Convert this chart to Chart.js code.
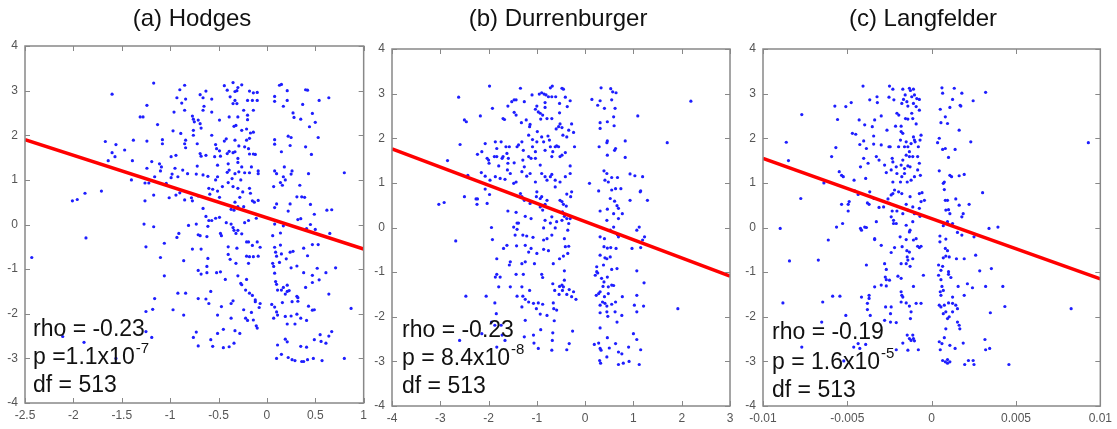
<!DOCTYPE html>
<html>
<head>
<meta charset="utf-8">
<script src="https://cdn.jsdelivr.net/npm/chart.js@4.4.1/dist/chart.umd.min.js"></script>
<style>
  html, body { margin: 0; padding: 0; background: #fff; }
  #wrap { position: relative; width: 1117px; height: 429px; overflow: hidden; }
  canvas { position: absolute; top: 0; }
</style>
</head>
<body>
<div id="wrap">
  <canvas id="panelA" width="372" height="429" style="left:0px"></canvas>
  <canvas id="panelB" width="372" height="429" style="left:372px"></canvas>
  <canvas id="panelC" width="373" height="429" style="left:744px"></canvas>
</div>
<script>
// ---- panel titles and statistics ----
const titles = ['(a) Hodges', '(b) Durrenburger', '(c) Langfelder'];
const rhoValues = ['-0.23', '-0.23', '-0.19'];
const pPrefix = ['p =', 'p = ', 'p = '];
const pMantissa = ['1.1', '8.4', '1.6'];
const pExponent = ['-7', '-8', '-5'];
const dfValues = ['513', '513', '513'];

// ---- tick values ----
const yTicks = [-4, -3, -2, -1, 0, 1, 2, 3, 4];
const hodgesTicks = [-2.5, -2, -1.5, -1, -0.5, 0, 0.5, 1];
const durrTicks = [-4, -3, -2, -1, 0, 1, 2, 3];
const langTicks = [-0.01, -0.005, 0, 0.005, 0.01];

// ---- fitted regression lines (endpoints at the axis limits) ----
const hodgesFit = [[-2.5, 1.9], [1, -0.55]];
const durrFit = [[-4, 1.76], [3, -1.09]];
const langFit = [[-0.01, 1.55], [0.01, -1.15]];

// ---- (a) Hodges: [x, y] ----
const hodgesPoints = [
[-1.17,3.17],[-1.60,2.92],[-1.24,2.67],[-1.31,2.41],[-1.28,2.41],[-1.13,2.24],
[-0.85,3.12],[-0.90,3.02],[-0.93,2.84],[-0.84,2.81],[-0.88,2.72],[-0.96,2.52],[-0.85,2.56],[-0.77,2.43],[-0.76,2.36],[-0.71,2.34],
[-0.69,2.91],[-0.63,2.99],[-0.66,2.84],[-0.57,2.81],[-0.66,2.56],[-0.65,2.65],[-0.57,2.52],[-0.69,2.26],[-0.68,2.16],[-0.75,2.30],
[-0.44,3.11],[-0.41,3.01],[-0.35,3.18],[-0.30,3.07],[-0.26,3.13],[-0.33,2.98],[-0.38,2.86],[-0.33,2.78],[-0.31,2.71],[-0.35,2.71],[-0.31,3.0],
[-0.18,2.99],[-0.14,2.95],[-0.10,2.96],[-0.20,2.78],[-0.15,2.78],[-0.10,2.78],[-0.24,2.56],[-0.20,2.45],[-0.14,2.56],
[-0.49,2.34],[-0.39,2.41],[-0.30,2.41],[-0.32,2.22],[-0.34,2.20],[-0.20,2.35],[-0.21,2.14],[-0.26,2.11],[-0.17,2.05],[-0.14,2.07],
[0.08,2.87],[0.13,3.12],[0.15,3.14],[0.21,3.0],[0.08,2.76],[0.17,2.65],[0.21,2.78],[0.40,3.02],[0.42,3.01],[0.37,2.69],[0.54,2.78],[0.64,2.84],
[0.27,2.50],[0.28,2.40],[0.35,2.36],[0.47,2.49],[0.50,2.29],[0.44,2.19],
[0.08,1.90],[0.08,1.80],[0.22,1.98],[0.25,1.95],[0.24,1.77],[0.15,1.63],[0.40,1.74],[0.46,1.57],[0.53,1.95],
[-1.67,1.86],[-1.56,1.79],[-1.60,1.61],[-1.57,1.52],[-1.47,1.67],[-1.38,1.89],[-1.64,1.43],[-1.39,1.43],[-1.40,1.0],[-1.24,1.87],[-1.24,1.26],
[-1.19,1.41],[-1.11,1.36],[-1.09,1.29],[-1.08,1.90],[-1.08,1.81],[-0.99,1.52],[-0.94,1.55],[-0.85,1.81],[-0.84,1.89],[-0.84,1.72],[-0.89,2.04],
[-0.97,2.10],[-0.76,2.11],[-0.76,2.0],[-0.72,1.81],[-0.69,1.59],[-0.68,1.53],[-0.63,1.55],[-0.57,2.0],[-0.53,1.79],[-0.52,1.70],[-0.49,1.65],
[-0.54,1.52],[-0.48,1.53],[-0.51,1.33],[-0.51,1.07],[-0.44,1.87],[-0.41,1.59],[-0.39,1.64],[-0.35,1.61],[-0.33,1.63],[-0.29,1.76],[-0.33,1.89],
[-0.42,1.92],[-0.21,1.89],[-0.18,1.93],[-0.23,1.74],[-0.19,1.70],[-0.18,1.58],[-0.14,1.58],[-0.12,1.57],[-0.30,1.48],[-0.40,1.36],[-0.39,1.22],
[-0.41,1.17],[-0.33,1.14],[-0.29,1.18],[-0.23,1.16],[-0.18,1.16],[-0.09,1.20],[-0.09,1.14],[-0.16,1.29],[-0.26,1.29],[-0.30,1.39],[-0.27,1.0],
[-0.36,1.03],[-0.66,1.11],[-0.61,1.08],[-0.53,1.0],[-0.73,1.13],[-0.72,1.31],[-0.82,1.14],[-0.87,1.22],[-0.92,1.07],[-0.99,1.05],[-1.04,0.92],
[-0.95,1.26],[-0.98,1.13],[-1.16,1.07],[-1.10,1.20],
[0.08,1.20],[0.10,1.14],[0.17,1.07],[0.18,1.29],[0.26,1.20],[0.25,1.13],[0.19,1.0],[0.14,0.94],[0.16,0.88],[0.34,0.88],[0.43,1.14],[0.80,1.16],[0.07,0.85],
[-2.01,0.53],[-1.96,0.56],[-1.88,0.70],[-1.71,0.75],[-1.26,0.93],[-1.22,0.93],[-1.17,0.66],[-1.26,0.53],[-1.01,0.60],[-0.94,0.66],[-0.90,0.71],
[-0.85,0.55],[-0.77,0.53],[-0.78,0.60],[-0.71,0.64],[-0.66,0.36],[-0.59,0.68],[-0.60,0.81],[-0.56,0.79],[-0.51,0.75],[-0.49,0.61],[-0.46,0.85],
[-0.40,0.94],[-0.35,0.85],[-0.30,0.81],[-0.28,0.61],[-0.33,0.50],[-0.37,0.34],[-0.34,0.32],[-0.30,0.40],[-0.24,0.40],[-0.25,0.73],[-0.18,0.81],
[-0.15,0.53],[-0.13,0.50],[-0.09,0.54],[-0.17,0.70],[-0.63,0.18],[-0.57,0.09],[-0.60,0.09],[-0.49,0.16],[-0.53,0.14],[-0.61,-0.04],[-0.73,0.01],
[-0.81,-0.02],[-0.42,0.04],[-0.37,0.01],[-0.35,-0.07],[-0.30,-0.13],[-0.34,-0.13],[-0.32,-0.20],[-0.23,0.04],[-0.19,0.09],[-0.11,0.14],
[-1.27,0.01],[-1.17,-0.05],
[0.10,0.46],[0.08,0.38],[0.22,0.30],[0.24,0.46],[0.31,0.62],[0.36,0.62],[0.39,0.61],[0.45,0.45],[0.49,0.23],[0.35,0.13],[0.32,0.11],[0.62,0.32],
[0.67,0.33],[0.08,0.01],[0.17,-0.03],[0.45,0.0],[0.41,-0.09],[0.50,-0.11],[0.65,-0.20],
[-2.43,-0.74],[-1.87,-0.30],[-1.25,-0.50],[-1.06,-0.42],[-0.91,-0.20],[-0.93,-0.29],[-1.10,-0.74],[-0.86,-0.81],[-0.77,-0.55],[-0.71,-0.23],
[-0.69,-0.25],[-0.62,-0.27],[-0.68,-0.55],[-0.61,-0.76],[-0.48,-0.20],[-0.47,-0.25],[-0.40,-0.50],[-0.40,-0.67],[-0.38,-0.78],[-0.31,-0.53],
[-0.26,-0.21],[-0.21,-0.39],[-0.19,-0.39],[-0.10,-0.39],[-0.15,-0.47],[-0.21,-0.71],[-0.18,-0.72],[-0.14,-0.72],[-0.09,-0.71],[-0.07,-0.51],
[-0.19,-0.87],[-0.32,-0.87],
[0.06,-0.25],[0.14,-0.19],[0.08,-0.51],[0.14,-0.46],[0.09,-0.62],[0.10,-0.71],[0.15,-0.66],[0.24,-0.62],[0.27,-0.60],[0.20,-0.77],[0.38,-0.53],
[0.47,-0.45],[0.53,-0.45],[0.42,-0.70],[0.13,-0.85],[0.06,-0.87],
[-1.06,-1.15],[-0.71,-1.03],[-0.68,-1.11],[-0.62,-1.08],[-0.62,-0.94],[-0.52,-1.08],[-0.48,-1.06],[-0.43,-1.23],[-0.30,-1.15],[-0.27,-1.32],
[-0.26,-1.35],[-0.21,-1.23],[-0.22,-1.47],[-0.18,-1.54],[-0.15,-1.59],[-0.12,-1.69],[-0.12,-1.73],[-0.07,-1.77],[-0.08,-1.86],[-0.24,-1.91],
[-0.16,-1.97],[-0.37,-1.77],[-0.35,-1.71],
[0.07,-0.94],[0.08,-1.09],[0.09,-1.28],[0.10,-1.34],[0.17,-1.41],[0.11,-1.47],[0.15,-1.47],[0.21,-1.36],[0.21,-1.50],[0.23,-1.48],[0.19,-1.56],
[0.25,-0.97],[0.31,-0.93],[0.38,-1.08],[0.47,-1.14],[0.52,-0.98],[0.61,-1.08],[0.54,-1.24],[0.47,-1.30],[0.40,-1.41],[0.71,-0.97],[0.64,-1.56],
[0.31,-1.61],[0.32,-1.64],[0.32,-1.72],[0.26,-1.73],[0.16,-1.75],[0.05,-1.79],[0.08,-1.85],[0.10,-1.96],[0.11,-2.03],[0.19,-2.06],[0.25,-2.05],
[0.31,-2.01],[0.43,-1.83],[0.47,-1.92],[0.49,-1.91],[0.87,-1.88],
[-1.16,-1.66],[-1.18,-1.90],[-1.25,-1.95],[-0.97,-1.91],[-0.92,-1.54],[-0.84,-1.54],[-0.86,-2.03],[-0.71,-1.66],[-0.63,-1.67],[-0.60,-1.77],
[-0.58,-1.50],[-0.47,-1.84],[-0.51,-2.03],
[-2.11,-2.51],[-1.89,-2.64],[-1.56,-3.0],[-1.25,-2.40],[-1.19,-2.53],[-0.76,-2.53],[-0.73,-2.41],[-0.71,-2.72],[-0.58,-2.58],[-0.56,-2.73],
[-0.51,-2.44],[-0.45,-2.35],[-0.45,-2.76],[-0.39,-2.74],[-0.34,-2.66],[-0.37,-2.10],[-0.33,-2.38],[-0.28,-2.44],[-0.22,-2.10],[-0.20,-2.15],
[-0.14,-2.14],[-0.10,-2.32],[-0.11,-2.27],
[0.07,-2.10],[0.11,-2.70],[0.10,-3.0],[0.15,-2.91],[0.19,-2.57],[0.21,-2.63],[0.22,-2.98],[0.26,-3.03],[0.29,-3.05],[0.21,-2.23],[0.29,-2.23],
[0.36,-3.07],[0.38,-3.07],[0.42,-3.03],[0.35,-2.73],[0.41,-2.75],[0.41,-2.15],[0.35,-2.10],[0.49,-2.58],[0.48,-3.0],[0.57,-3.05],[0.55,-2.47],
[0.56,-2.62],[0.61,-2.66],[0.64,-2.50],[0.67,-2.40],[0.80,-3.0]
];

// ---- (b) Durrenburger: [x, y] ----
const durrPoints = [
[-1.98,3.17],[-2.62,2.92],[-1.92,2.67],[-2.17,2.50],[-2.50,2.41],[-2.46,2.37],[-2.59,1.86],[-2.85,1.50],
[-1.34,3.12],[-1.47,2.86],[-1.52,2.82],[-1.43,2.86],[-1.60,2.72],[-1.26,2.82],[-1.10,2.97],[-1.03,2.65],[-0.95,2.99],[-0.90,3.02],[-0.85,2.99],
[-0.81,2.97],[-0.76,2.93],[-0.69,2.93],[-0.72,3.13],[-0.68,3.17],[-0.48,3.12],[-0.45,3.10],[-0.61,2.93],[-0.41,2.92],[-0.31,2.84],[-0.37,2.71],
[-0.53,2.78],[-0.83,2.80],[-0.83,2.69],[-0.93,2.56],[-0.88,2.52],[-0.92,2.43],[-0.97,2.59],[-0.79,2.44],[-0.69,2.44],[-1.0,2.72],[-1.47,2.58],
[-1.43,2.52],[-1.70,2.44],[-1.67,2.42],[-1.32,2.35],[-1.22,2.41],[-1.14,2.31],[-1.15,2.26],[-0.53,2.57],[-0.52,2.32],[-0.55,2.26],[-0.48,2.24],
[-0.28,2.32],[-0.24,2.13],[-0.34,2.18],[-0.60,2.21],
[0.14,2.87],[0.31,2.84],[0.26,2.74],[0.33,3.13],[0.53,3.11],[0.57,3.04],[0.64,3.02],[0.55,2.86],[0.40,2.67],[0.62,2.67],[0.59,2.48],[0.31,2.35],
[0.46,2.37],[0.60,2.28],[0.31,2.22],[1.09,2.50],[2.19,2.83],[1.70,1.90],
[-2.07,1.88],[-2.14,1.70],[-2.23,1.64],[-2.03,1.55],[-2.0,1.51],[-1.99,1.44],[-2.15,1.23],[-2.07,1.15],[-2.43,1.17],[-1.86,1.92],[-1.83,1.77],
[-1.74,1.92],[-1.88,1.59],[-1.83,1.59],[-1.72,1.55],[-1.70,1.59],[-1.64,1.81],[-1.57,1.81],[-1.62,1.66],[-1.60,1.44],[-1.61,1.29],[-1.55,1.21],
[-1.79,1.38],[-1.86,1.14],[-1.76,1.10],[-1.66,1.08],[-1.97,1.06],[-1.59,1.55],[-1.47,1.45],[-1.41,1.81],[-1.38,1.85],[-1.31,1.92],[-1.28,1.73],
[-1.29,1.51],[-1.26,1.36],[-1.31,1.25],[-1.17,1.59],[-1.12,1.55],[-1.09,1.81],[-1.09,1.97],[-1.0,1.92],[-1.03,1.70],[-1.03,1.55],[-1.17,2.07],
[-0.99,2.15],[-0.90,2.03],[-0.86,1.92],[-0.77,2.05],[-0.74,1.96],[-0.83,1.73],[-0.72,1.81],[-0.69,1.59],[-0.62,1.81],[-0.59,1.83],[-0.67,1.70],
[-0.52,1.59],[-0.48,1.62],[-0.41,1.68],[-0.55,1.81],[-0.46,2.07],[-0.38,2.03],[-0.22,1.81],[-0.31,1.38],[-0.31,1.21],[-0.93,1.40],[-0.90,1.21],
[-0.83,1.14],[-0.79,1.06],[-0.72,1.14],[-0.69,1.19],[-0.62,1.06],[-0.62,0.91],[-0.52,1.02],[-0.41,1.14],[-1.14,1.21],[-1.21,1.15],[-1.03,1.02],
[-1.43,1.02],[-1.48,0.99],
[0.29,1.81],[0.46,1.94],[0.45,1.90],[0.46,1.62],[0.61,1.73],[0.63,1.77],[0.83,1.94],[0.83,1.57],[0.39,1.27],[0.45,1.21],[0.55,1.12],[0.67,1.12],
[0.41,1.06],[0.48,1.02],[0.93,1.20],[1.03,1.16],[1.19,1.14],[0.09,0.99],[0.55,0.84],[0.63,0.87],[0.74,0.87],[0.28,0.82],[1.14,0.80],[1.15,0.82],
[-3.03,0.52],[-2.92,0.56],[-2.50,0.69],[-2.26,0.64],[-2.23,0.64],[-2.24,0.52],[-2.03,0.54],[-2.07,0.86],[-1.98,0.74],[-1.60,0.37],[-1.43,0.34],
[-1.34,0.76],[-1.31,0.69],[-1.41,0.10],[-1.38,0.10],[-1.48,0.01],[-1.41,-0.04],[-1.26,0.61],[-1.24,0.25],[-1.12,0.20],[-1.14,0.54],[-1.0,0.80],
[-1.01,0.69],[-0.93,0.65],[-0.90,0.69],[-0.93,0.46],[-0.88,0.39],[-0.79,0.61],[-0.83,0.52],[-0.69,0.24],[-0.72,0.10],[-0.83,0.16],[-0.86,-0.01],
[-0.62,-0.01],[-0.52,0.61],[-0.48,0.58],[-0.45,0.52],[-0.39,0.48],[-0.47,0.35],[-0.43,0.25],[-0.38,0.20],[-0.34,0.09],[-0.36,-0.06],[-0.38,0.75],
[-0.30,0.69],[-0.28,0.80],[-0.31,0.20],[-0.48,0.16],[-0.59,0.13],
[0.31,0.37],[0.46,0.41],[0.52,0.65],[0.61,0.59],[0.66,0.49],[0.69,0.43],[0.77,0.31],[0.59,0.31],[0.69,0.20],[0.45,0.16],[1.29,0.61],[0.93,0.61],
[0.31,-0.21],[0.40,-0.25],[0.52,-0.06],[0.67,-0.16],[0.69,-0.21],[0.59,0.01],[1.12,0.01],[1.07,-0.06],
[-1.94,0.0],[-1.92,-0.27],[-2.68,-0.30],[-1.69,-0.47],[-1.62,-0.40],[-1.83,-0.70],[-1.45,-0.17],[-1.42,-0.41],[-1.29,-0.17],[-1.21,-0.19],
[-1.24,-0.40],[-1.12,-0.47],[-1.08,-0.22],[-0.86,-0.28],[-0.79,-0.25],[-0.69,-0.17],[-0.86,-0.49],[-0.76,-0.52],[-1.0,-0.58],[-1.17,-0.55],
[-0.43,-0.25],[-0.41,-0.43],[-0.34,-0.42],[-0.36,-0.58],[-0.53,-0.70],[-0.45,-0.64],[-0.66,-0.81],[-1.24,-0.77],[-1.31,-0.81],[-1.55,-0.77],
[-1.43,-1.05],[-1.28,-1.05],[-0.90,-1.05],[-0.88,-1.12],[-1.05,-0.81],
[0.31,-0.62],[0.39,-0.43],[0.46,-0.46],[0.53,-0.45],[0.64,-0.47],[0.41,-0.68],[0.45,-0.70],[0.52,-0.66],[0.24,-0.88],[0.38,-0.84],[0.55,-0.94],
[0.66,-0.92],[0.97,-0.47],[1.15,-0.45],[1.19,-0.28],[1.23,-0.21],[1.07,-0.97],[0.24,-0.99],
[-1.86,-1.11],[-1.83,-1.05],[-1.79,-1.33],[-1.76,-1.11],[-1.87,-1.69],[-1.84,-1.93],[-1.57,-0.84],[-1.55,-1.33],[-1.41,-1.54],[-1.31,-1.78],
[-1.29,-1.54],[-1.24,-1.61],[-1.17,-1.67],[-1.07,-1.70],[-0.97,-1.69],[-0.88,-1.72],[-1.01,-1.82],[-0.93,-1.94],[-0.79,-1.97],[-0.66,-1.69],
[-0.65,-1.82],[-0.59,-1.85],[-0.67,-1.26],[-0.63,-1.41],[-0.53,-1.32],[-0.48,-1.29],[-0.45,-1.33],[-0.33,-1.39],[-0.38,-1.50],[-0.28,-1.55],
[-0.24,-1.44],[-0.19,-1.61],[-0.54,-1.50],[-0.43,-0.97],[-0.43,-1.18],[-0.47,-1.41],[-1.15,-1.41],[-1.31,-1.33],[-2.47,-1.54],[-2.05,-1.54],
[0.21,-1.07],[0.26,-1.02],[0.34,-1.14],[0.39,-1.22],[0.46,-1.11],[0.48,-1.33],[0.55,-1.29],[0.59,-1.30],[0.48,-1.48],[0.37,-1.32],[0.31,-1.44],
[0.28,-1.48],[0.23,-1.52],[0.40,-1.55],[0.36,-1.67],[0.41,-1.70],[0.31,-1.74],[0.45,-1.76],[0.55,-1.72],[0.63,-1.67],[0.77,-1.55],[1.07,-1.52],
[1.22,-1.24],[1.02,-1.74],[1.07,-1.89],[1.21,-1.76],[1.92,-1.82],[0.31,-1.91],[0.45,-1.89],[0.47,-1.99],[0.62,-1.89],[0.76,-1.97],
[-1.94,-2.12],[-1.87,-2.19],[-1.74,-2.19],[-1.72,-2.41],[-1.83,-2.68],[-1.66,-2.53],[-2.60,-2.53],[-2.14,-2.38],[-1.24,-2.08],[-1.26,-2.45],
[-1.07,-2.41],[-1.06,-2.59],[-0.97,-2.71],[-0.92,-2.29],[-0.67,-2.36],[-0.68,-2.53],[-0.69,-2.75],[-0.64,-2.09],[-0.38,-2.74],[-0.33,-2.60],
[-0.26,-2.32],
[0.19,-2.62],[0.28,-2.59],[0.31,-2.71],[0.33,-2.75],[0.31,-2.25],[0.30,-2.98],[0.32,-3.04],[0.45,-2.90],[0.46,-2.47],[0.66,-2.12],[0.69,-2.79],
[0.76,-2.83],[0.69,-3.07],[0.79,-3.04],[0.91,-3.0],[1.12,-3.07],[1.0,-2.38],[1.07,-2.51],[1.15,-2.74],[0.90,-2.68],[0.63,-2.60],[0.50,-2.70]
];

// ---- (c) Langfelder: [x, y] ----
const langPoints = [
[-0.00407,3.17],[-0.0025,3.17],[-0.0023,3.10],[-0.00253,2.92],[-0.00224,2.86],[-0.00367,2.86],[-0.00324,2.93],[-0.00322,2.80],[-0.00477,2.80],
[-0.00509,2.71],[-0.00574,2.72],[-0.0077,2.53],
[-0.00171,3.10],[-0.00157,2.97],[-0.00167,2.87],[-0.00147,2.82],[-0.00132,3.12],[-0.00126,3.07],[-0.00118,2.93],[-0.00108,3.10],[-0.00102,2.97],
[-0.00088,2.89],[-0.00073,2.87],[-0.00108,2.78],[-0.00092,2.71],[-0.00073,2.63],[-0.00141,2.72],[-0.00177,2.78],[-0.00206,2.56],[-0.00195,2.52],
[-0.00155,2.44],[-0.00141,2.43],[-0.00118,2.56],[-0.00112,2.44],[-0.00092,2.32],
[-0.00299,2.50],[-0.00338,2.41],[-0.0043,2.41],[-0.00397,2.30],[-0.00352,2.26],[-0.00265,2.18],[-0.00214,2.27],[-0.00181,2.27],[-0.00558,2.42],
[0.00061,3.13],[0.00065,3.01],[0.00134,3.12],[0.00179,3.01],[0.00124,2.87],[0.00051,2.65],[0.00108,2.69],[0.00169,2.74],[0.00173,2.72],
[0.00246,2.84],[0.0032,3.03],[0.00081,2.48],[0.00055,2.35],[0.00094,2.33],[0.00163,2.18],
[-0.00862,1.91],[-0.00849,1.50],[-0.00593,1.59],[-0.00568,1.79],[-0.00548,1.25],[-0.00534,1.17],[-0.00524,1.14],[-0.00639,1.0],
[-0.0047,2.11],[-0.0045,2.09],[-0.00426,1.86],[-0.00403,1.94],[-0.00387,1.77],[-0.00403,1.55],[-0.00422,1.36],[-0.0046,1.06],[-0.00391,1.10],
[-0.00377,1.44],[-0.00344,1.87],[-0.00344,2.05],[-0.00328,1.59],[-0.00312,1.51],[-0.00299,1.85],[-0.00279,1.40],[-0.00269,1.23],[-0.00253,1.81],
[-0.00246,1.81],[-0.00234,1.55],[-0.0023,1.47],[-0.0024,1.29],[-0.0023,1.02],[-0.0021,1.36],[-0.00206,1.21],[-0.00196,1.81],[-0.00185,1.96],
[-0.00171,2.11],[-0.00181,2.15],[-0.00161,1.81],[-0.00151,1.92],[-0.00141,1.81],[-0.00132,1.70],[-0.00132,1.59],[-0.00151,1.62],[-0.00171,1.51],
[-0.00181,1.40],[-0.00161,1.32],[-0.00141,1.38],[-0.00128,1.36],[-0.00112,1.59],[-0.00102,1.96],[-0.00098,1.92],[-0.00108,2.03],[-0.00122,1.88],
[-0.00079,1.81],[-0.00069,1.96],[-0.00063,2.07],[-0.00083,1.59],[-0.00073,1.44],[-0.00161,1.21],[-0.00177,1.14],[-0.00185,1.02],[-0.00145,1.02],
[-0.00122,1.06],[-0.00102,1.14],[-0.00083,1.29],[-0.00067,1.17],
[0.00045,2.0],[0.00035,1.90],[0.00065,1.75],[0.00081,1.77],[0.00139,1.75],[0.00232,1.92],[0.001,1.57],[0.00045,1.27],[0.00075,1.02],[0.00069,0.99],
[0.00108,1.17],[0.00118,1.14],[0.00163,1.16],[0.00193,1.19],[0.00929,1.90],[0.00302,0.78],
[-0.00776,0.65],[-0.00534,0.52],[-0.00495,0.52],[-0.00489,0.58],[-0.00495,0.37],[-0.00528,0.09],[-0.00564,0.01],[-0.00898,-0.02],
[-0.00456,0.82],[-0.00436,0.74],[-0.00367,0.80],[-0.00381,0.55],[-0.00371,0.52],[-0.00342,0.65],[-0.00312,0.45],[-0.00285,0.46],[-0.00259,0.64],
[-0.0024,0.73],[-0.0023,0.76],[-0.0022,0.84],[-0.00196,0.80],[-0.00177,0.76],[-0.0025,0.54],[-0.00234,0.37],[-0.0024,0.24],[-0.00226,0.16],
[-0.00226,0.09],[-0.00206,0.37],[-0.00171,0.31],[-0.00151,0.52],[-0.00141,0.39],[-0.00128,0.69],[-0.00112,0.46],[-0.00102,0.31],[-0.00073,0.76],
[-0.00057,0.78],[-0.00043,0.61],[-0.00063,0.58],[-0.00073,0.43],[-0.00069,0.25],[-0.00112,0.13],[-0.00151,0.05],[-0.00128,-0.06],[-0.0021,0.09],
[-0.00328,0.13],[-0.00387,0.0],[-0.00422,-0.02],[-0.00416,-0.06],[-0.00397,0.01],
[0.00075,0.85],[0.00081,0.61],[0.00094,0.61],[0.00084,0.39],[0.001,0.40],[0.00108,0.31],[0.00143,0.64],[0.00163,0.50],[0.00222,0.52],[0.00187,0.31],
[0.00179,0.24],[0.00069,0.04],[0.00094,0.13],[0.00124,0.09],[0.00153,-0.11],[0.00179,-0.17],[0.00251,-0.21],[0.0034,-0.02],[0.00393,0.01],
[-0.00613,-0.28],[-0.00672,-0.73],[-0.00843,-0.75],[-0.00387,-0.84],[-0.00338,-0.25],[-0.00338,-0.27],[-0.00299,-0.40],[-0.0022,-0.45],
[-0.0024,-0.56],[-0.00175,-0.43],[-0.00187,-0.21],[-0.00151,-0.27],[-0.00132,-0.10],[-0.00108,-0.28],[-0.00092,-0.25],[-0.00083,-0.42],
[-0.00073,-0.45],[-0.00063,-0.42],[-0.00147,-0.52],[-0.00132,-0.55],[-0.00145,-0.66],[-0.00141,-0.73],[-0.00112,-0.70],[-0.00151,-0.81],
[-0.00128,-0.87],[-0.00181,-0.81],[-0.00279,-0.81],[-0.00269,-0.94],[-0.00049,-1.07],
[0.00049,-0.19],[0.00049,-0.32],[0.00084,-0.26],[0.00081,-0.47],[0.00094,-0.52],[0.00084,-0.64],[0.00069,-0.68],[0.00104,-0.66],[0.00147,-0.70],
[0.00193,-0.70],[0.00041,-0.84],[0.00065,-0.87],[0.001,-0.99],[0.00055,-0.96],[0.00261,-0.62],[0.00285,-0.97],[0.00354,-0.92],
[-0.00275,-1.11],[-0.00269,-1.17],[-0.0025,-1.18],[-0.00299,-1.29],[-0.00338,-1.33],[-0.00269,-1.31],[-0.002,-1.09],[-0.00181,-1.14],
[-0.00108,-1.32],[-0.00181,-1.44],[-0.00177,-1.52],[-0.00171,-1.56],[-0.00181,-1.67],[-0.00151,-1.69],[-0.00132,-1.76],[-0.00122,-1.89],
[-0.00092,-1.70],[-0.00063,-1.70],[-0.00371,-1.52],[-0.00371,-1.59],[-0.00416,-1.56],[-0.00381,-1.70],[-0.00381,-1.84],[-0.00364,-1.97],
[-0.00587,-1.54],[-0.00544,-1.54],[-0.00646,-1.67],[-0.00882,-1.69],[-0.00509,-1.97],[-0.00273,-1.78],[-0.0024,-1.78],[-0.00244,-1.93],
[0.00041,-1.07],[0.00055,-1.17],[0.001,-1.05],[0.00114,-1.12],[0.00061,-1.32],[0.00051,-1.44],[0.00069,-1.41],[0.00055,-1.52],[0.00124,-1.56],
[0.001,-1.69],[0.00045,-1.74],[0.00055,-1.78],[0.00075,-1.74],[0.00124,-1.70],[0.00143,-1.74],[0.00153,-1.82],[0.00157,-1.32],[0.00212,-1.26],
[0.00193,-1.52],[0.00242,-1.35],[0.0032,-1.32],[0.00422,-1.32],[0.00434,-1.77],[0.00348,-1.91],[0.00827,-1.82],[0.00069,-1.93],[0.00084,-1.89],
[0.00124,-1.89],[0.00104,-2.0],
[-0.00279,-2.08],[-0.00244,-2.12],[-0.0021,-2.13],[-0.00126,-2.04],[-0.00145,-2.41],[-0.00132,-2.49],[-0.00122,-2.53],[-0.00108,-2.49],
[-0.00102,-2.54],[-0.00112,-2.41],[-0.00171,-2.59],[-0.0021,-2.74],[-0.00141,-2.75],[-0.00079,-2.74],[-0.00436,-2.60],[-0.00391,-2.62],
[-0.00462,-2.68],[-0.00426,-2.71],[-0.00652,-2.12],[-0.0077,-2.68],[-0.00521,-2.99],
[0.00045,-2.56],[0.00061,-2.60],[0.00051,-2.74],[0.00075,-2.47],[0.00108,-2.64],[0.00139,-2.71],[0.00153,-2.12],[0.00163,-2.19],[0.00167,-2.27],
[0.00084,-2.27],[0.00094,-2.04],[0.00187,-2.59],[0.00065,-2.98],[0.00081,-3.01],[0.00094,-3.04],[0.00108,-3.01],[0.00094,-2.96],[0.00218,-2.98],
[0.00196,-3.07],[0.00246,-2.98],[0.00251,-3.07],[0.00316,-2.51],[0.0032,-2.74],[0.00344,-2.71],[0.00458,-3.07]
];

// Frame with inward tick marks on all four sides, title and statistics text
const panelDecor = {
  id: 'panelDecor',
  afterDatasetsDraw(chart, args, opts) {
    const { ctx, chartArea: a, scales: { x, y } } = chart;
    ctx.save();
    ctx.strokeStyle = '#888888';
    ctx.lineWidth = 1.5;
    ctx.strokeRect(a.left, a.top, a.right - a.left, a.bottom - a.top);
    ctx.lineWidth = 1;
    ctx.beginPath();
    for (const t of opts.xTicks) {
      const px = Math.round(x.getPixelForValue(t)) + 0.5;
      ctx.moveTo(px, a.top); ctx.lineTo(px, a.top + 5);
      ctx.moveTo(px, a.bottom); ctx.lineTo(px, a.bottom - 5);
    }
    for (const t of yTicks) {
      const py = Math.round(y.getPixelForValue(t)) + 0.5;
      ctx.moveTo(a.left, py); ctx.lineTo(a.left + 5, py);
      ctx.moveTo(a.right, py); ctx.lineTo(a.right - 5, py);
    }
    ctx.stroke();

    const i = opts.index;
    ctx.fillStyle = '#111';
    ctx.textBaseline = 'alphabetic';
    ctx.textAlign = 'center';
    ctx.font = '24px "Liberation Sans", Arial, sans-serif';
    ctx.fillText(titles[i], opts.titleX, 26);

    ctx.textAlign = 'left';
    ctx.font = '23px "Liberation Sans", Arial, sans-serif';
    const tx = opts.textX, b = opts.baselines;
    ctx.fillText('rho = ' + rhoValues[i], tx, b[0]);
    const pMain = pPrefix[i] + pMantissa[i] + 'x10';
    ctx.fillText(pMain, tx, b[1]);
    const w = ctx.measureText(pMain).width;
    ctx.fillText('df = ' + dfValues[i], tx, b[2]);
    ctx.font = '15px "Liberation Sans", Arial, sans-serif';
    ctx.fillText(pExponent[i], tx + w + 1, b[1] - 11);
    ctx.restore();
  }
};

function makePanel(id, index, points, fit, xTicks, layout) {
  const tickFont = { family: '"Liberation Sans", Arial, sans-serif', size: 12 };
  return new Chart(document.getElementById(id), {
    type: 'scatter',
    data: {
      datasets: [
        {
          type: 'line',
          data: fit.map(([px, py]) => ({ x: px, y: py })),
          borderColor: '#ff0000',
          borderWidth: 3.5,
          pointRadius: 0,
          fill: false,
          order: 0
        },
        {
          data: points.map(([px, py]) => ({ x: px, y: py })),
          backgroundColor: 'rgb(30,30,255)',
          borderWidth: 0,
          pointRadius: 1.6,
          order: 1
        }
      ]
    },
    options: {
      responsive: false,
      animation: false,
      events: [],
      layout: { padding: { left: 0, top: layout.top, right: layout.right, bottom: 0 } },
      plugins: {
        legend: { display: false },
        tooltip: { enabled: false },
        panelDecor: {
          index: index,
          xTicks: xTicks,
          titleX: layout.titleX,
          textX: layout.textX,
          baselines: layout.baselines
        }
      },
      scales: {
        x: {
          type: 'linear',
          min: xTicks[0],
          max: xTicks[xTicks.length - 1],
          afterBuildTicks: s => { s.ticks = xTicks.map(v => ({ value: v })); },
          afterFit: s => { s.height = layout.xH; },
          grid: { display: false, drawTicks: false },
          border: { display: false },
          ticks: { color: '#555', font: tickFont, padding: 5, maxRotation: 0, autoSkip: false,
                   callback: v => String(v) }
        },
        y: {
          type: 'linear',
          min: -4,
          max: 4,
          afterBuildTicks: s => { s.ticks = yTicks.map(v => ({ value: v })); },
          afterFit: s => { s.width = layout.yW; },
          grid: { display: false, drawTicks: false },
          border: { display: false },
          ticks: { color: '#555', font: tickFont, padding: 7, autoSkip: false,
                   callback: v => String(v) }
        }
      }
    },
    plugins: [panelDecor]
  });
}

makePanel('panelA', 0, hodgesPoints, hodgesFit, hodgesTicks,
  { top: 46, right: 7, xH: 26, yW: 25, titleX: 192, textX: 33, baselines: [335.5, 364, 392] });
makePanel('panelB', 1, durrPoints, durrFit, durrTicks,
  { top: 49, right: 14, xH: 23, yW: 20, titleX: 186, textX: 30, baselines: [336.5, 365, 392.5] });
makePanel('panelC', 2, langPoints, langFit, langTicks,
  { top: 49, right: 15, xH: 23, yW: 19, titleX: 179, textX: 28, baselines: [339, 368.5, 396.5] });
</script>
</body>
</html>
